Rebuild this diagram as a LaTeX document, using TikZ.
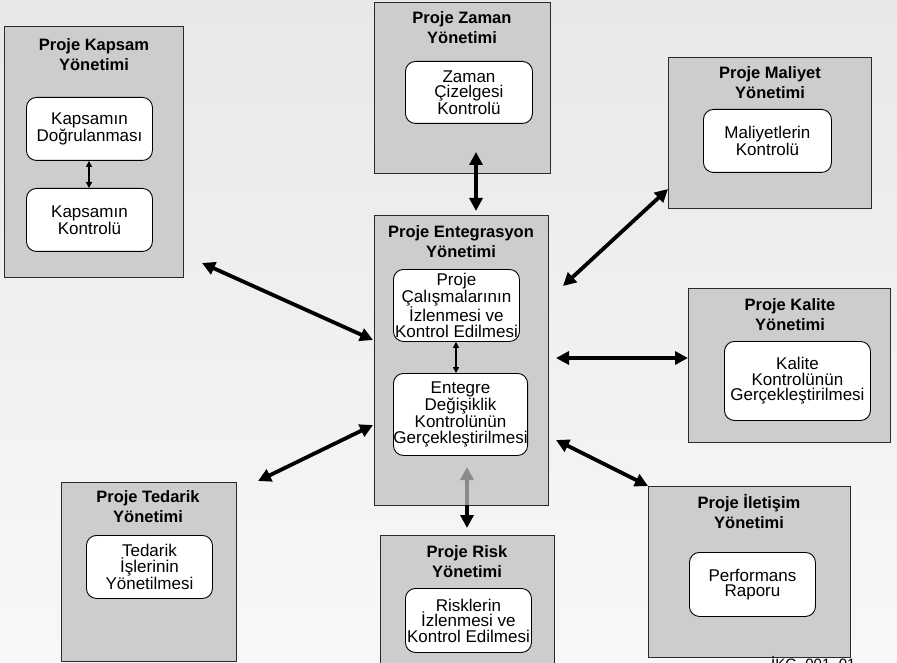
\documentclass[tikz,border=0pt]{standalone}
\usepackage{fontspec}
\setmainfont{Liberation Sans}
\usetikzlibrary{arrows.meta}
\definecolor{bgtop}{HTML}{E8E8E8}
\definecolor{bgbot}{HTML}{F8F8F8}
\definecolor{boxfill}{HTML}{CDCDCD}
\definecolor{boxline}{HTML}{2A2A2A}
\definecolor{grayarrow}{HTML}{8A8A8A}
\tikzset{
  outerbox/.style={draw=boxline, fill=boxfill, line width=1.3pt, rectangle, anchor=north west, inner sep=0pt},
  innerbox/.style={draw=black, fill=white, line width=0.9pt, rectangle, rounded corners=10pt, anchor=north west, inner sep=0pt, align=center, font=\fontsize{17}{15.5}\selectfont},
  titletext/.style={align=center, inner sep=0pt, font=\fontsize{16.5}{20}\selectfont\bfseries},
  bigarrow/.style={line width=3.8pt, {Triangle[length=13pt,width=13pt]}-{Triangle[length=13pt,width=13pt]}},
  smallarrow/.style={line width=1.4pt, {Triangle[length=6pt,width=6pt]}-{Triangle[length=6pt,width=6pt]}},
  onearrow/.style={line width=3.8pt, -{Triangle[length=13pt,width=13pt]}}
}
\begin{document}
\begin{tikzpicture}[x=1pt,y=-1pt]
\clip (0,0) rectangle (897,663);
\useasboundingbox (0,0) rectangle (897,663);
\shade[top color=bgtop, bottom color=bgbot] (0,0) rectangle (897,663);

% Kapsam
\node[outerbox, minimum width=179pt, minimum height=251pt] (kapsam) at (4,26) {};
\node[titletext] (kapsamT) at (94,55) {Proje Kapsam\\Yönetimi};
\node[innerbox, minimum width=126pt, minimum height=63pt] (kapsam1) at (26,97) {Kapsamın\\Doğrulanması};
\node[innerbox, minimum width=126pt, minimum height=63pt] (kapsam2) at (26,188) {Kapsamın\\Kontrolü};

% Zaman
\node[outerbox, minimum width=176pt, minimum height=171pt] (zaman) at (374,2) {};
\node[titletext] (zamanT) at (462,28) {Proje Zaman\\Yönetimi};
\node[innerbox, minimum width=127pt, minimum height=62pt] (zaman1) at (405,61) {Zaman\\Çizelgesi\\Kontrolü};

% Maliyet
\node[outerbox, minimum width=203pt, minimum height=151pt] (maliyet) at (668,57) {};
\node[titletext] (maliyetT) at (770,83) {Proje Maliyet\\Yönetimi};
\node[innerbox, minimum width=128pt, minimum height=63pt] (maliyet1) at (703,109) {Maliyetlerin\\Kontrolü};

% Entegrasyon
\node[outerbox, minimum width=174pt, minimum height=290pt] (entegre) at (374,215) {};
\node[titletext] (entegreT) at (461,242) {Proje Entegrasyon\\Yönetimi};
\node[innerbox, minimum width=126pt, minimum height=72pt] (entegre1) at (393,269) {Proje\\Çalışmalarının\\İzlenmesi ve\\Kontrol Edilmesi};
\node[innerbox, minimum width=126pt, minimum height=82pt] (entegre2) at (393,373) {Entegre\\Değişiklik\\Kontrolünün\\Gerçekleştirilmesi};

% Kalite
\node[outerbox, minimum width=202pt, minimum height=154pt] (kalite) at (688,288) {};
\node[titletext] (kaliteT) at (790,315) {Proje Kalite\\Yönetimi};
\node[innerbox, minimum width=146pt, minimum height=79pt] (kalite1) at (724,341) {Kalite\\Kontrolünün\\Gerçekleştirilmesi};

% Iletisim
\node[outerbox, minimum width=202pt, minimum height=171pt] (iletisim) at (648,486) {};
\node[titletext] (iletisimT) at (749,512) {Proje İletişim\\Yönetimi};
\node[innerbox, minimum width=126pt, minimum height=64pt] (iletisim1) at (689,552) {Performans\\Raporu};

% Risk
\node[outerbox, minimum width=174pt, minimum height=140pt] (risk) at (380,535) {};
\node[titletext] (riskT) at (467,562) {Proje Risk\\Yönetimi};
\node[innerbox, minimum width=126pt, minimum height=64pt] (risk1) at (405,588) {Risklerin\\İzlenmesi ve\\Kontrol Edilmesi};

% Tedarik
\node[outerbox, minimum width=175pt, minimum height=179pt] (tedarik) at (61,482) {};
\node[titletext] (tedarikT) at (148,507) {Proje Tedarik\\Yönetimi};
\node[innerbox, minimum width=126pt, minimum height=63pt] (tedarik1) at (86,535) {Tedarik\\İşlerinin\\Yönetilmesi};

% code label (cut off at the bottom, as in the source)
\node[anchor=north west, inner sep=0pt, font=\fontsize{15}{15}\selectfont] (code) at (771,656) {İKG\_001\_01};

% arrow end points
\coordinate (kA) at (202,263); \coordinate (kB) at (373,340);
\coordinate (zA) at (476,152); \coordinate (zB) at (476,211);
\coordinate (mA) at (563,286); \coordinate (mB) at (668,189);
\coordinate (qA) at (556,358); \coordinate (qB) at (688,358);
\coordinate (tA) at (258,481); \coordinate (tB) at (373,425);
\coordinate (iA) at (556,440); \coordinate (iB) at (648,486);
\coordinate (rM) at (467,505); \coordinate (rUp) at (467,467); \coordinate (rDn) at (467,528);

\draw[bigarrow] (kA) -- (kB);
\draw[bigarrow] (zA) -- (zB);
\draw[bigarrow] (mA) -- (mB);
\draw[bigarrow] (qA) -- (qB);
\draw[bigarrow] (tA) -- (tB);
\draw[bigarrow] (iA) -- (iB);
\draw[onearrow, grayarrow] (rM) -- (rUp);
\draw[onearrow, black] (rM) -- (rDn);

\draw[smallarrow] (kapsam1.south -| 89,0) -- (kapsam2.north -| 89,0);
\draw[smallarrow] (entegre1.south -| 456,0) -- (entegre2.north -| 456,0);
\end{tikzpicture}
\end{document}
